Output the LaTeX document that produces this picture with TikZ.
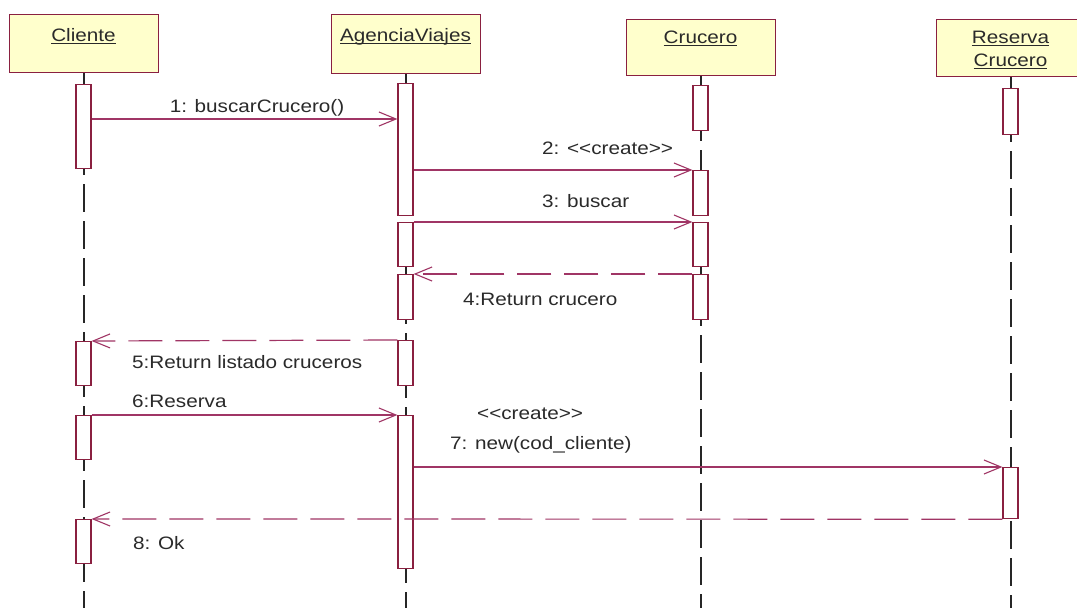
\documentclass[tikz,border=0pt]{standalone}
\usepackage{fontspec}
\newfontfamily\umlfont[FakeStretch=1.15]{Liberation Sans}
\usetikzlibrary{arrows.meta}
\definecolor{boxborder}{HTML}{8A2040}
\definecolor{msgcol}{HTML}{A03565}
\definecolor{hdrfill}{HTML}{FFFFCC}
\definecolor{txt}{HTML}{2A2A2A}
\definecolor{lifecol}{HTML}{262626}
\newcommand\umlul[1]{\setbox0\hbox{#1}\rlap{\color{txt}\rule[-2.6pt]{\wd0}{0.9pt}}\box0}
\begin{document}
\begin{tikzpicture}[x=1pt,y=-1pt,
  hdr/.style={draw=boxborder, fill=hdrfill, line width=1.2pt, minimum width=149pt, minimum height=58pt, inner sep=0pt, anchor=north west},
  lbl/.style={inner sep=0pt, text=txt, font=\umlfont\fontsize{18}{20}\selectfont},
  act/.style={draw=boxborder, fill=white, line width=1.2pt, minimum width=15pt, inner sep=0pt, anchor=north},
  life/.style={draw=lifecol, line width=1.4pt, dash pattern=on 28pt off 9pt},
  msg/.style={draw=msgcol, line width=1.2pt, -{Straight Barb[length=17pt,width=14pt,line width=1.1pt]}},
  ret/.style={msg, dash pattern=on 34pt off 13pt}
]
\useasboundingbox[fill=white] (0,0) rectangle (1077,608);
\clip (0,0) rectangle (1077,608);
\coordinate (bot) at (0,612);

% headers
\node[hdr] (hCl) at (9,14) {};
\node[hdr, minimum height=59pt] (hAg) at (331,14) {};
\node[hdr, minimum height=56pt] (hCr) at (626,19) {};
\node[hdr, minimum height=57pt] (hRe) at (936,19) {};
\node[lbl, anchor=base] (tCl) at (83.5,41) {\umlul{Cliente}};
\node[lbl, anchor=base] (tAg) at (405.5,41) {\umlul{AgenciaViajes}};
\node[lbl, anchor=base] (tCr) at (700.5,43) {\umlul{Crucero}};
\node[lbl, anchor=base] (tRe1) at (1010.5,43) {\umlul{Reserva}};
\node[lbl, anchor=base] (tRe2) at (1010.5,66) {\umlul{Crucero}};

% lifelines
\draw[life] (hCl.south) -- (hCl.south |- bot);
\draw[life] (hAg.south) -- (hAg.south |- bot);
\draw[life] (hCr.south) -- (hCr.south |- bot);
\draw[life] (hRe.south) -- (hRe.south |- bot);

% activations
\node[act, minimum height=84pt] (aCl1) at (83.5,84) {};
\node[act, minimum height=44pt] (aCl2) at (83.5,341) {};
\node[act, minimum height=44pt] (aCl3) at (83.5,415) {};
\node[act, minimum height=44pt] (aCl4) at (83.5,519) {};

\node[act, minimum height=132pt] (aAg1) at (405.5,83) {};
\node[act, minimum height=44pt] (aAg2) at (405.5,222) {};
\node[act, minimum height=45pt] (aAg3) at (405.5,274) {};
\node[act, minimum height=45pt] (aAg4) at (405.5,340) {};
\node[act, minimum height=153pt] (aAg5) at (405.5,415) {};

\node[act, minimum height=45pt] (aCr1) at (700.5,85) {};
\node[act, minimum height=45pt] (aCr2) at (700.5,170) {};
\node[act, minimum height=44pt] (aCr3) at (700.5,222) {};
\node[act, minimum height=45pt] (aCr4) at (700.5,274) {};

\node[act, minimum height=46pt] (aRe1) at (1010.5,88) {};
\node[act, minimum height=51pt] (aRe2) at (1010.5,467) {};

% messages
\coordinate (y1) at (0,119);
\draw[msg] (aCl1.east |- y1) -- (aAg1.west |- y1);
\draw[msg] (aAg1.east |- aCr2.north) -- (aCr2.north west);
\draw[msg] (aAg2.north east) -- (aCr3.north west);
\draw[ret] (aCr4.north west) -- (aAg3.north east);
\draw[ret] (aAg4.north west) -- (aCl2.north east);
\draw[msg] (aCl3.north east) -- (aAg5.north west);
\draw[msg] (aAg5.east |- aRe2.north) -- (aRe2.north west);
\draw[ret] (aRe2.south west) -- (aCl4.north east);

% labels
\node[lbl, anchor=base] (m1) at (257,112) {1: buscarCrucero()};
\node[lbl, anchor=base west] (m2) at (542,154) {2: <\kern0pt<create>\kern0pt>};
\node[lbl, anchor=base west] (m3) at (542,207) {3: buscar};
\node[lbl, anchor=base west] (m4) at (463,305) {4:Return crucero};
\node[lbl, anchor=base west] (m5) at (132,368) {5:Return listado cruceros};
\node[lbl, anchor=base west] (m6) at (132,407) {6:Reserva};
\node[lbl, anchor=base west] (m7a) at (477,419) {<\kern0pt<create>\kern0pt>};
\node[lbl, anchor=base west] (m7b) at (450,449) {7: new(cod\_cliente)};
\node[lbl, anchor=base west] (m8) at (133,549) {8: Ok};
\end{tikzpicture}
\end{document}
